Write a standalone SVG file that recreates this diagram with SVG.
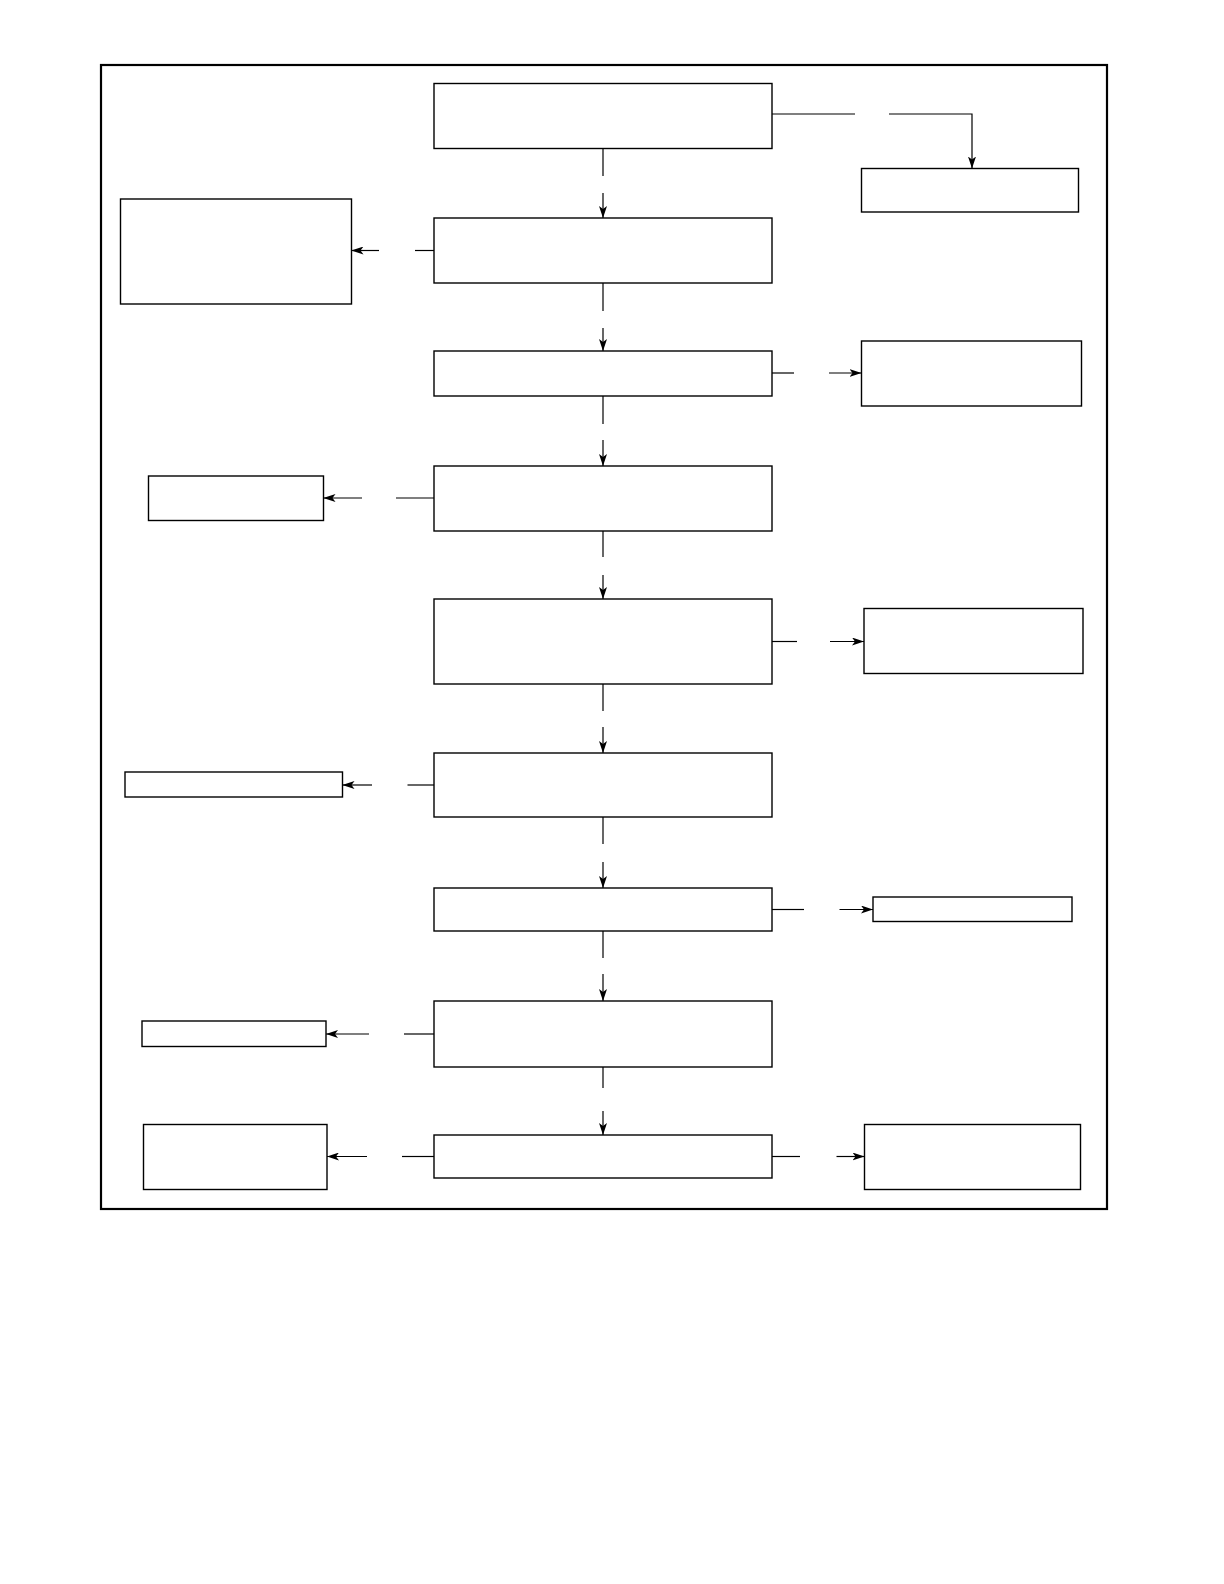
<svg xmlns="http://www.w3.org/2000/svg" width="1224" height="1584" viewBox="0 0 1224 1584">
<style>
.box{fill:#fff;stroke:#000;stroke-width:1.4}
.ln{fill:none;stroke:#000;stroke-width:1.2}
.frame{fill:none;stroke:#000;stroke-width:2.2}
</style>
<defs>
<marker id="ah" viewBox="0 0 12 8" refX="12" refY="4" markerWidth="12" markerHeight="8" markerUnits="userSpaceOnUse" orient="auto">
<path d="M0,0 L12,4 L0,8 L3,4 z" fill="#000"/>
</marker>
</defs>
<rect width="1224" height="1584" fill="#fff"/>
<rect class="frame" x="101" y="65" width="1006" height="1144"/>
<g id="connectors">
<!-- main vertical -->
<line class="ln" x1="603" y1="148.5" x2="603" y2="176"/>
<line class="ln" x1="603" y1="193" x2="603" y2="218" marker-end="url(#ah)"/>
<line class="ln" x1="603" y1="283" x2="603" y2="311"/>
<line class="ln" x1="603" y1="328" x2="603" y2="351" marker-end="url(#ah)"/>
<line class="ln" x1="603" y1="396" x2="603" y2="424"/>
<line class="ln" x1="603" y1="440" x2="603" y2="466" marker-end="url(#ah)"/>
<line class="ln" x1="603" y1="531" x2="603" y2="557"/>
<line class="ln" x1="603" y1="575" x2="603" y2="599" marker-end="url(#ah)"/>
<line class="ln" x1="603" y1="684" x2="603" y2="711"/>
<line class="ln" x1="603" y1="727" x2="603" y2="753" marker-end="url(#ah)"/>
<line class="ln" x1="603" y1="817" x2="603" y2="844"/>
<line class="ln" x1="603" y1="862" x2="603" y2="888" marker-end="url(#ah)"/>
<line class="ln" x1="603" y1="931" x2="603" y2="958"/>
<line class="ln" x1="603" y1="974" x2="603" y2="1001" marker-end="url(#ah)"/>
<line class="ln" x1="603" y1="1067" x2="603" y2="1088"/>
<line class="ln" x1="603" y1="1111" x2="603" y2="1135" marker-end="url(#ah)"/>
<!-- box1 to R1 -->
<line class="ln" x1="772" y1="114" x2="855" y2="114"/>
<polyline class="ln" points="889,114 972,114 972,168.5" marker-end="url(#ah)"/>
<!-- box2 to L1 -->
<line class="ln" x1="434" y1="250.5" x2="415" y2="250.5"/>
<line class="ln" x1="379" y1="250.5" x2="351.5" y2="250.5" marker-end="url(#ah)"/>
<!-- box3 to R2 -->
<line class="ln" x1="772" y1="373" x2="794" y2="373"/>
<line class="ln" x1="829" y1="373" x2="861.5" y2="373" marker-end="url(#ah)"/>
<!-- box4 to L2 -->
<line class="ln" x1="434" y1="498" x2="396" y2="498"/>
<line class="ln" x1="362" y1="498" x2="323.5" y2="498" marker-end="url(#ah)"/>
<!-- box5 to R3 -->
<line class="ln" x1="772" y1="641.5" x2="797" y2="641.5"/>
<line class="ln" x1="830" y1="641.5" x2="864" y2="641.5" marker-end="url(#ah)"/>
<!-- box6 to L3 -->
<line class="ln" x1="434" y1="785" x2="407.5" y2="785"/>
<line class="ln" x1="372" y1="785" x2="342.5" y2="785" marker-end="url(#ah)"/>
<!-- box7 to R4 -->
<line class="ln" x1="772" y1="909.5" x2="804" y2="909.5"/>
<line class="ln" x1="839.5" y1="909.5" x2="873" y2="909.5" marker-end="url(#ah)"/>
<!-- box8 to L4 -->
<line class="ln" x1="434" y1="1034" x2="404" y2="1034"/>
<line class="ln" x1="369" y1="1034" x2="326" y2="1034" marker-end="url(#ah)"/>
<!-- box9 to L5 -->
<line class="ln" x1="434" y1="1156.5" x2="402" y2="1156.5"/>
<line class="ln" x1="367" y1="1156.5" x2="327" y2="1156.5" marker-end="url(#ah)"/>
<!-- box9 to R5 -->
<line class="ln" x1="772" y1="1156.5" x2="800" y2="1156.5"/>
<line class="ln" x1="836.5" y1="1156.5" x2="864.5" y2="1156.5" marker-end="url(#ah)"/>
</g>
<g id="step1"><rect class="box" x="434" y="83.5" width="338" height="65"/></g>
<g id="step2"><rect class="box" x="434" y="218" width="338" height="65"/></g>
<g id="step3"><rect class="box" x="434" y="351" width="338" height="45"/></g>
<g id="step4"><rect class="box" x="434" y="466" width="338" height="65"/></g>
<g id="step5"><rect class="box" x="434" y="599" width="338" height="85"/></g>
<g id="step6"><rect class="box" x="434" y="753" width="338" height="64"/></g>
<g id="step7"><rect class="box" x="434" y="888" width="338" height="43"/></g>
<g id="step8"><rect class="box" x="434" y="1001" width="338" height="66"/></g>
<g id="step9"><rect class="box" x="434" y="1135" width="338" height="43"/></g>
<g id="right1"><rect class="box" x="861.5" y="168.5" width="217" height="43.5"/></g>
<g id="right2"><rect class="box" x="861.5" y="341" width="220" height="65"/></g>
<g id="right3"><rect class="box" x="864" y="608.5" width="219" height="65"/></g>
<g id="right4"><rect class="box" x="873" y="897" width="199" height="24.5"/></g>
<g id="right5"><rect class="box" x="864.5" y="1124.5" width="216" height="65"/></g>
<g id="left1"><rect class="box" x="120.5" y="199" width="231" height="105"/></g>
<g id="left2"><rect class="box" x="148.5" y="476" width="175" height="44.5"/></g>
<g id="left3"><rect class="box" x="125" y="772" width="217.5" height="25"/></g>
<g id="left4"><rect class="box" x="142" y="1021" width="184" height="25.5"/></g>
<g id="left5"><rect class="box" x="143.5" y="1124.5" width="183.5" height="65"/></g>
</svg>
